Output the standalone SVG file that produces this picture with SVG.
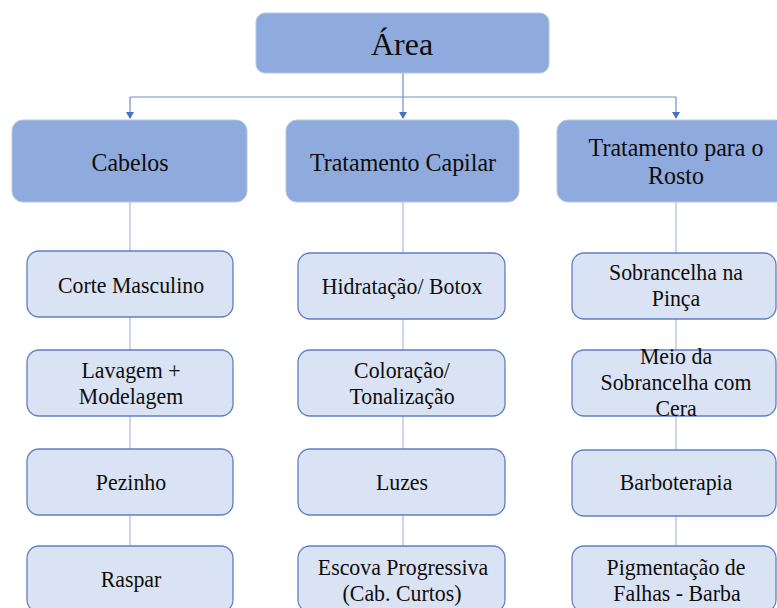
<svg xmlns="http://www.w3.org/2000/svg" width="777" height="608" viewBox="0 0 777 608">
<style>
.top{fill:#8FAADC;stroke:#B4C6EA;stroke-width:1}
.l1{fill:#8FAADC;stroke:#B4C6EA;stroke-width:1}
.l2{fill:#DAE3F3;stroke:#5F80C2;stroke-width:1.3}
.t{font-family:'Liberation Serif','Times New Roman',serif;fill:#0D0D0D;text-anchor:middle}
.t32{font-size:32px}
.t24{font-size:25.5px}
.t22{font-size:24px}
.c{fill:none;stroke:#A8BDE3;stroke-width:1.2}
.a{fill:none;stroke:#6F8FD0;stroke-width:1.2}
</style>
<defs>
<marker id="arr" markerWidth="8" markerHeight="8" refX="6" refY="4" orient="auto" markerUnits="userSpaceOnUse">
<path d="M0,0 L7,4 L0,8 Z" fill="#4472C4"/>
</marker>
</defs>
<rect width="777" height="608" fill="#FFFFFF"/>
<g id="connectors">
<path class="a" d="M403,73 V97 M130,97 H676"/>
<path class="a" d="M130,97 V118" marker-end="url(#arr)"/>
<path class="a" d="M403,97 V118" marker-end="url(#arr)"/>
<path class="a" d="M676,97 V118" marker-end="url(#arr)"/>
<path class="c" d="M130,202 V251 M130,317 V350 M130,416 V449 M130,515 V546"/>
<path class="c" d="M403,202 V253 M403,319 V350 M403,416 V449 M403,515 V546"/>
<path class="c" d="M676,202 V253 M676,319 V350 M676,416 V450 M676,516 V546"/>
</g>
<g id="area">
<rect class="top" x="256" y="13" width="293" height="60" rx="9"/>
<text class="t t32" x="402" y="55">Área</text>
</g>
<g id="cabelos">
<rect class="l1" x="12" y="120" width="235" height="82" rx="11"/>
<text class="t t24" transform="matrix(0.94 0 0 1 130 0)" x="0" y="171">Cabelos</text>
</g>
<g id="tratamento-capilar">
<rect class="l1" x="286" y="120" width="233" height="82" rx="11"/>
<text class="t t24" transform="matrix(0.94 0 0 1 403 0)" x="0" y="171">Tratamento Capilar</text>
</g>
<g id="tratamento-rosto">
<rect class="l1" x="557" y="120" width="232" height="82" rx="11"/>
<text class="t t24" transform="matrix(0.94 0 0 1 676 0)" x="0" y="156">Tratamento para o</text>
<text class="t t24" transform="matrix(0.94 0 0 1 676 0)" x="0" y="184">Rosto</text>
</g>
<g id="corte-masculino">
<rect class="l2" x="27" y="251" width="206" height="66" rx="12"/>
<text class="t t22" transform="matrix(0.91 0 0 1 131 0)" x="0" y="293">Corte Masculino</text>
</g>
<g id="lavagem">
<rect class="l2" x="27" y="350" width="206" height="66" rx="12"/>
<text class="t t22" transform="matrix(0.91 0 0 1 131 0)" x="0" y="378">Lavagem +</text>
<text class="t t22" transform="matrix(0.91 0 0 1 131 0)" x="0" y="404">Modelagem</text>
</g>
<g id="pezinho">
<rect class="l2" x="27" y="449" width="206" height="66" rx="12"/>
<text class="t t22" transform="matrix(0.91 0 0 1 131 0)" x="0" y="490">Pezinho</text>
</g>
<g id="raspar">
<rect class="l2" x="27" y="546" width="206" height="66" rx="12"/>
<text class="t t22" transform="matrix(0.91 0 0 1 131 0)" x="0" y="587">Raspar</text>
</g>
<g id="hidratacao">
<rect class="l2" x="298" y="253" width="207" height="66" rx="12"/>
<text class="t t22" transform="matrix(0.91 0 0 1 402 0)" x="0" y="294">Hidratação/ Botox</text>
</g>
<g id="coloracao">
<rect class="l2" x="298" y="350" width="207" height="66" rx="12"/>
<text class="t t22" transform="matrix(0.91 0 0 1 402 0)" x="0" y="378">Coloração/</text>
<text class="t t22" transform="matrix(0.91 0 0 1 402 0)" x="0" y="404">Tonalização</text>
</g>
<g id="luzes">
<rect class="l2" x="298" y="449" width="207" height="66" rx="12"/>
<text class="t t22" transform="matrix(0.91 0 0 1 402 0)" x="0" y="490">Luzes</text>
</g>
<g id="escova">
<rect class="l2" x="298" y="546" width="207" height="66" rx="12"/>
<text class="t t22" transform="matrix(0.91 0 0 1 403 0)" x="0" y="575">Escova Progressiva</text>
<text class="t t22" transform="matrix(0.91 0 0 1 402 0)" x="0" y="601">(Cab. Curtos)</text>
</g>
<g id="sobrancelha-pinca">
<rect class="l2" x="572" y="253" width="204" height="66" rx="12"/>
<text class="t t22" transform="matrix(0.91 0 0 1 676 0)" x="0" y="280">Sobrancelha na</text>
<text class="t t22" transform="matrix(0.91 0 0 1 676 0)" x="0" y="306">Pinça</text>
</g>
<g id="meio-sobrancelha">
<rect class="l2" x="572" y="350" width="204" height="66" rx="12"/>
<text class="t t22" transform="matrix(0.91 0 0 1 676 0)" x="0" y="364">Meio da</text>
<text class="t t22" transform="matrix(0.91 0 0 1 676 0)" x="0" y="390">Sobrancelha com</text>
<text class="t t22" transform="matrix(0.91 0 0 1 676 0)" x="0" y="416">Cera</text>
</g>
<g id="barboterapia">
<rect class="l2" x="572" y="450" width="204" height="66" rx="12"/>
<text class="t t22" transform="matrix(0.91 0 0 1 676 0)" x="0" y="490">Barboterapia</text>
</g>
<g id="pigmentacao">
<rect class="l2" x="572" y="546" width="204" height="66" rx="12"/>
<text class="t t22" transform="matrix(0.91 0 0 1 676 0)" x="0" y="575">Pigmentação de</text>
<text class="t t22" transform="matrix(0.91 0 0 1 677 0)" x="0" y="601">Falhas - Barba</text>
</g>
</svg>
